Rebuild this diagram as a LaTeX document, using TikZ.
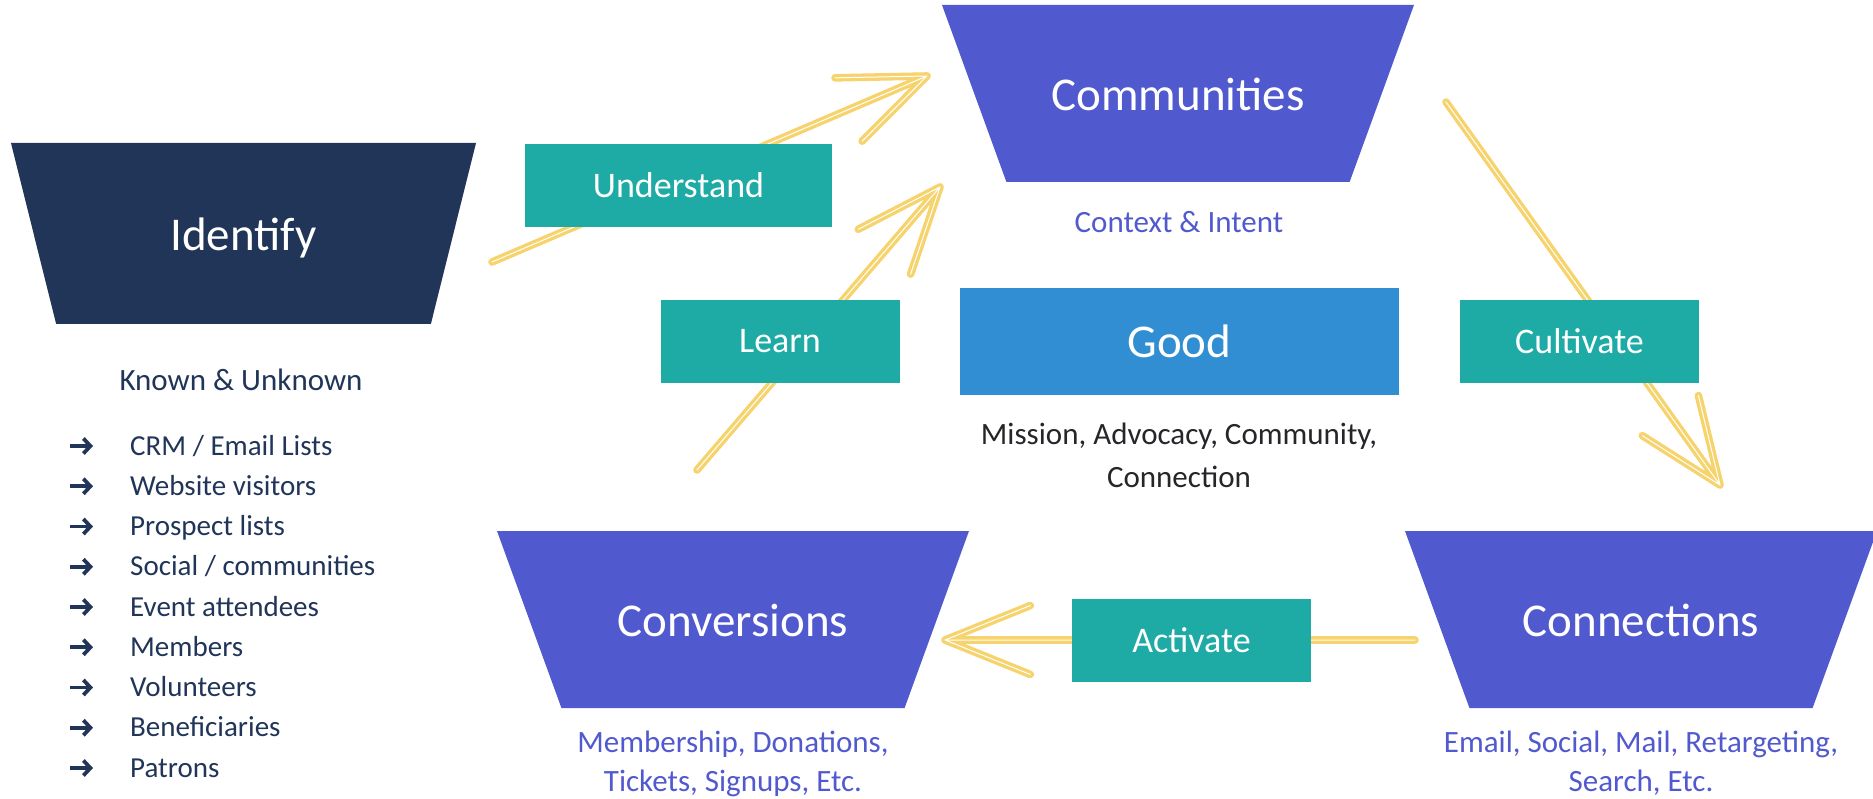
\documentclass[tikz,border=0pt]{standalone}
\usepackage{fontspec}
\setmainfont{Carlito}
\usepackage{tikz}
\usetikzlibrary{arrows.meta,positioning,calc,shapes.geometric}
\definecolor{navy}{RGB}{33,53,89}
\definecolor{funnelblue}{RGB}{81,89,207}
\definecolor{stepteal}{RGB}{30,171,165}
\definecolor{goodblue}{RGB}{49,142,210}
\definecolor{chalkyellow}{RGB}{246,211,108}
\definecolor{ink}{RGB}{38,38,42}

% double-stroked arrow with an open head, tail -> tip
\newcommand{\sketcharrow}[2]{%
  \draw[chalk] (#1) -- (#2) -- ($(#2)!92pt!22:(#1)$)
    (#2) -- ($(#2)!92pt!-22:(#1)$);}

\begin{document}
\begin{tikzpicture}[x=1pt, y=-1pt,
  funnel/.style={trapezium, trapezium stretches body, shape border rotate=180,
    trapezium angle=70, minimum width=472pt, text height=39pt,
    text depth=5pt, inner xsep=0pt, inner ysep=66.5pt,
    fill=funnelblue, text=white, outer sep=0pt,
    font=\fontsize{47}{56}\selectfont},
  stepbox/.style={fill=stepteal, text=white, minimum width=239pt,
    minimum height=83pt, inner sep=0pt, font=\fontsize{36}{43}\selectfont},
  caption/.style={align=center, inner sep=0pt, text=funnelblue,
    font=\fontsize{31}{39}\selectfont},
  listitem/.style={anchor=base west, inner sep=0pt, text=navy,
    font=\fontsize{29}{35}\selectfont},
  bullet/.style={draw=navy, line width=3.8pt,
    -{Straight Barb[length=7pt, width=15pt]}},
  chalk/.style={draw=chalkyellow, line width=3.3pt, double=white,
    double distance=1pt, line cap=round, line join=round}]
\useasboundingbox (0,0) rectangle (1873,799);

% funnel stages
\node[funnel, fill=navy, trapezium angle=76, minimum width=465pt,
  inner ysep=68.5pt] (identify) at (243.5,233.5) {Identify};
\node[funnel] (communities) at (1178,93.5) {Communities};
\node[funnel] (conversions) at (733,619.5) {Conversions};
\node[funnel] (connections) at (1641,619.5) {Connections};
\node[fill=goodblue, text=white, minimum width=439pt, minimum height=107pt,
  font=\fontsize{47}{56}\selectfont] (good) at (1179.5,341.5) {Good};

% hand drawn arrows, under the step labels
\coordinate (identify-out) at (492,262);
\coordinate (communities-in) at (927,76);
\coordinate (learn-out) at (697,470);
\coordinate (communities-back) at (940,187);
\coordinate (communities-out) at (1446,102);
\coordinate (connections-in) at (1720,485);
\coordinate (connections-out) at (1415,640);
\coordinate (conversions-in) at (945,640);
\sketcharrow{identify-out}{communities-in}
\sketcharrow{learn-out}{communities-back}
\sketcharrow{communities-out}{connections-in}
\sketcharrow{connections-out}{conversions-in}

% step labels
\node[stepbox, minimum width=307pt] (understand) at (678.5,185.5) {Understand};
\node[stepbox] (learn) at (780,341.5) {Learn};
\node[stepbox] (cultivate) at (1579.5,341.5) {Cultivate};
\node[stepbox] (activate) at (1191.5,640) {Activate};

% captions
\node[caption] (intent) at (1179,222) {Context \& Intent};
\node[caption, text=ink, font=\fontsize{31}{43}\selectfont] (mission)
  at (1179,455) {Mission, Advocacy, Community,\\Connection};
\node[caption] (gifts) at (733,764) {Membership, Donations,\\Tickets, Signups, Etc.};
\node[caption] (channels) at (1641,763) {Email, Social, Mail, Retargeting,\\Search, Etc.};

% known and unknown sources
\node[caption, text=navy] (known) at (241,380) {Known \& Unknown};
\foreach \src [count=\i from 0] in {CRM / Email Lists, Website visitors,
    Prospect lists, Social / communities, Event attendees, Members,
    Volunteers, Beneficiaries, Patrons} {
  \node[listitem] (item\i) at (130,455+40.25*\i) {\src};
  \draw[bullet] ([xshift=-60pt, yshift=9pt]item\i.base west) -- ++(23,0);
}
\end{tikzpicture}
\end{document}
